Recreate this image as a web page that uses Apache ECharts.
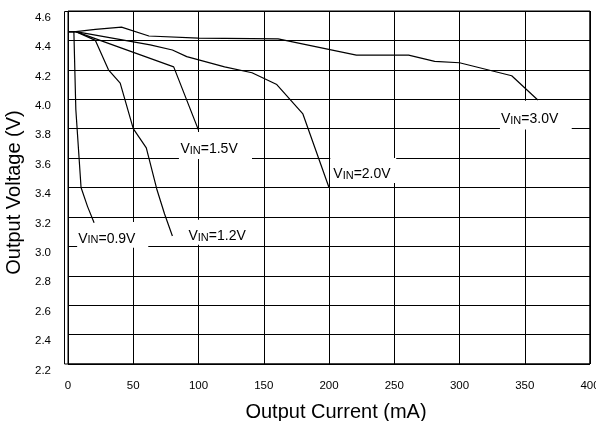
<!DOCTYPE html>
<html>
<head>
<meta charset="utf-8">
<script src="https://cdn.jsdelivr.net/npm/echarts@6/dist/echarts.min.js"></script>
<style>html,body{margin:0;padding:0;background:#fff;}#c{width:596px;height:421px;}</style>
</head>
<body>
<div id="c"></div>
<script>
// ---- data ----
var xTicks = [0, 50, 100, 150, 200, 250, 300, 350, 400];
var yTicks = [2.2, 2.4, 2.6, 2.8, 3.0, 3.2, 3.4, 3.6, 3.8, 4.0, 4.2, 4.4, 4.6];

var vin09Current = [0, 4.5, 6, 10, 15, 20];
var vin09Voltage = [4.46, 4.46, 3.93, 3.40, 3.27, 3.16];

var vin12Current = [0, 6, 21, 31, 40, 50, 60, 68, 74, 80];
var vin12Voltage = [4.46, 4.46, 4.40, 4.20, 4.11, 3.80, 3.67, 3.39, 3.22, 3.07];

var vin15Current = [0, 6, 81, 100];
var vin15Voltage = [4.46, 4.46, 4.22, 3.79];

var vin20Current = [0, 6, 63, 80, 91, 120, 141, 160, 180, 200];
var vin20Voltage = [4.46, 4.46, 4.37, 4.335, 4.29, 4.22, 4.18, 4.10, 3.90, 3.40];

var vin30Current = [0, 6, 21, 41, 62, 100, 161, 221, 261, 281, 300, 340, 360];
var vin30Voltage = [4.46, 4.46, 4.475, 4.49, 4.43, 4.415, 4.41, 4.30, 4.30, 4.258, 4.248, 4.16, 3.995];

var seriesNames = ['0.9V', '1.2V', '1.5V', '2.0V', '3.0V'];

// ---- build ----
function pairs(xs, ys) { return xs.map(function (x, i) { return [x, ys[i]]; }); }
var FONT = 'Liberation Sans, Arial, Helvetica, sans-serif';

var curves = [
  { data: pairs(vin09Current, vin09Voltage), box: [[7, 3.165], [61.5, 2.99]], dist: 1 },
  { data: pairs(vin12Current, vin12Voltage), box: [[90, 3.18], [139.5, 3.01]], dist: 3 },
  { data: pairs(vin15Current, vin15Voltage), box: [[85, 3.777], [141, 3.594]], dist: 1.5 },
  { data: pairs(vin20Current, vin20Voltage), box: [[201, 3.60], [251.5, 3.43]], dist: 3 },
  { data: pairs(vin30Current, vin30Voltage), box: [[331, 3.99], [386, 3.795]], dist: 1 }
];

var series = curves.map(function (c, i) {
  return {
    name: 'VIN=' + seriesNames[i],
    type: 'line',
    data: c.data,
    showSymbol: false,
    symbol: 'none',
    lineStyle: { color: '#000', width: 1.2 },
    silent: true,
    z: 3,
    markArea: {
      silent: true,
      itemStyle: { color: '#fff', borderWidth: 0 },
      label: {
        show: true,
        position: 'insideLeft',
        distance: c.dist,
        offset: [0, 3],
        formatter: '{v|V}{s|IN}{v|=' + seriesNames[i] + '}',
        rich: {
          v: { fontSize: 14, lineHeight: 16, verticalAlign: 'bottom', color: '#000', fontFamily: FONT },
          s: { fontSize: 11, lineHeight: 10, verticalAlign: 'bottom', color: '#000', fontFamily: FONT }
        }
      },
      data: [[{ coord: c.box[0] }, { coord: c.box[1] }]]
    }
  };
});

var chart = echarts.init(document.getElementById('c'), null, { renderer: 'canvas' });
chart.setOption({
  animation: false,
  backgroundColor: '#fff',
  grid: {
    left: 68, right: 6, top: 11, bottom: 57,
    outerBoundsMode: 'none', containLabel: false,
    show: true, borderColor: '#000', borderWidth: 1
  },
  xAxis: {
    type: 'value',
    min: xTicks[0], max: xTicks[xTicks.length - 1], interval: xTicks[1] - xTicks[0],
    name: 'Output Current (mA)',
    nameLocation: 'middle',
    nameGap: 38,
    nameTextStyle: { fontSize: 20, color: '#000', fontFamily: FONT, padding: [0, 0, 0, 14] },
    axisLine: { show: false },
    axisTick: { show: false },
    axisLabel: { fontSize: 11.5, color: '#000', fontFamily: FONT, margin: 16 },
    splitLine: { show: true, lineStyle: { color: '#000', width: 1 } }
  },
  yAxis: {
    type: 'value',
    min: yTicks[0], max: yTicks[yTicks.length - 1], interval: 0.2,
    name: 'Output Voltage (V)',
    nameLocation: 'middle',
    nameGap: 36,
    nameTextStyle: { fontSize: 20, color: '#000', fontFamily: FONT, padding: [0, 10, 0, 0] },
    axisLine: { show: false },
    axisTick: { show: false },
    axisLabel: {
      fontSize: 11.5, color: '#000', fontFamily: FONT, margin: 17,
      verticalAlign: 'top', lineHeight: 13,
      formatter: function (v) { return v.toFixed(1); }
    },
    splitLine: { show: true, lineStyle: { color: '#000', width: 1 } }
  },
  graphic: [{
    type: 'rect', silent: true, z: 10,
    shape: { x: 64.5, y: 11.5, width: 525.5, height: 352.5 },
    style: { fill: null, stroke: '#000', lineWidth: 1 }
  }],
  series: series
});
</script>
</body>
</html>
